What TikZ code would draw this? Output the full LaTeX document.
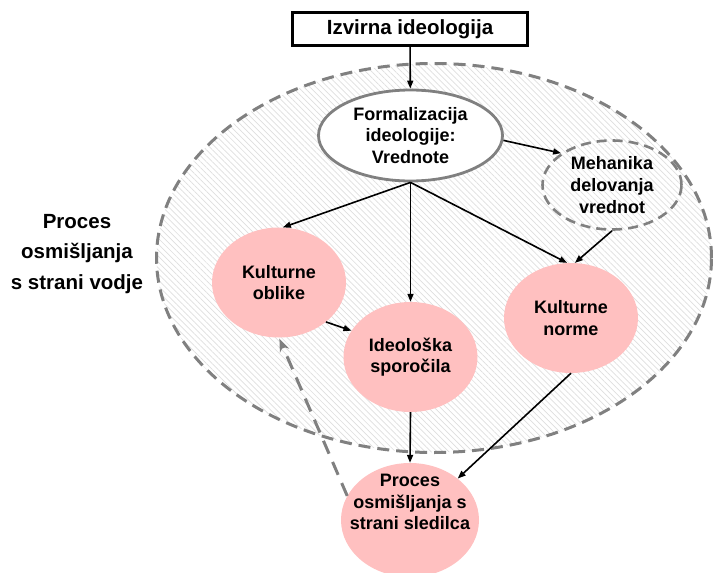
\documentclass[tikz,border=0pt]{standalone}
\usepackage{fontspec}
\setmainfont{Liberation Sans}
\usetikzlibrary{shapes.geometric,arrows.meta,patterns.meta}
\definecolor{rozaPolnilo}{RGB}{255,192,192}
\definecolor{sivaCrta}{RGB}{128,128,128}
\definecolor{sivaSrafura}{RGB}{222,222,222}

\begin{document}
\begin{tikzpicture}[x=1pt,y=-1pt,
    besedilo/.style={font=\fontsize{18}{21.7}\selectfont\bfseries, align=center},
    roza/.style={ellipse, fill=rozaPolnilo, inner sep=0pt, minimum width=134pt, minimum height=110pt, besedilo},
    puscica/.style={-{Triangle[length=8pt,width=6pt]}, line width=1.6pt},
    povratna/.style={-{Stealth[length=13pt,width=10pt]}, draw=sivaCrta, line width=3pt, dash pattern=on 14pt off 9pt, shorten >=1pt}
  ]
  \useasboundingbox (0,0) rectangle (716,573);

  \node[ellipse, minimum width=555pt, minimum height=389pt, draw=sivaCrta, line width=3pt, dash pattern=on 12pt off 7pt,
        pattern={Lines[angle=-45,distance=4.2pt,line width=0.7pt]}, pattern color=sivaSrafura] (vodja) at (434,258) {};

  \node[draw, line width=2.7pt, minimum width=235pt, minimum height=33pt, font=\fontsize{20.5}{24}\selectfont\bfseries] (izvir) at (410,29) {Izvirna ideologija};
  \node[ellipse, draw=sivaCrta, line width=2.8pt, fill=white, minimum width=184pt, minimum height=91pt, inner sep=0pt, besedilo] (form) at (410.5,135.5) {Formalizacija\\ideologije:\\Vrednote};
  \node[ellipse, draw=sivaCrta, line width=2.6pt, dash pattern=on 10pt off 6pt, minimum width=139pt, minimum height=89pt, inner sep=0pt, besedilo] (meh) at (612,185) {Mehanika\\delovanja\\vrednot};

  \node[roza] (kobl) at (279,282.5) {Kulturne\\oblike};
  \node[roza] (ideo) at (410.5,357) {Ideološka\\sporočila};
  \node[roza] (knorm) at (571,318) {Kulturne\\norme};
  \node[roza, minimum width=138pt, minimum height=114pt] (sled) at (410,520) {};
  \node[besedilo] (sledNapis) at (410,502) {Proces\\osmišljanja s\\strani sledilca};

  \node[font=\fontsize{20.5}{30.5}\selectfont\bfseries, align=center] (vodjaNapis) at (77,254) {Proces\\osmišljanja\\s strani vodje};

  \draw[puscica] (izvir) -- (form);
  \draw[puscica] (form.-3) -- (meh.148);
  \draw[puscica] (form.south) -- (kobl.86);
  \draw[puscica] (form.south) -- (ideo.north);
  \draw[puscica] (form.south) -- (knorm.94);
  \draw[puscica] (meh.south) -- (knorm.86);
  \draw[puscica] (kobl.-40) -- (ideo.156);
  \draw[puscica] (ideo.south) -- (sled.north);
  \draw[puscica] (knorm.south) -- (sled.41);
  \draw[povratna] (sled.159) -- (kobl.south);
\end{tikzpicture}
\end{document}
